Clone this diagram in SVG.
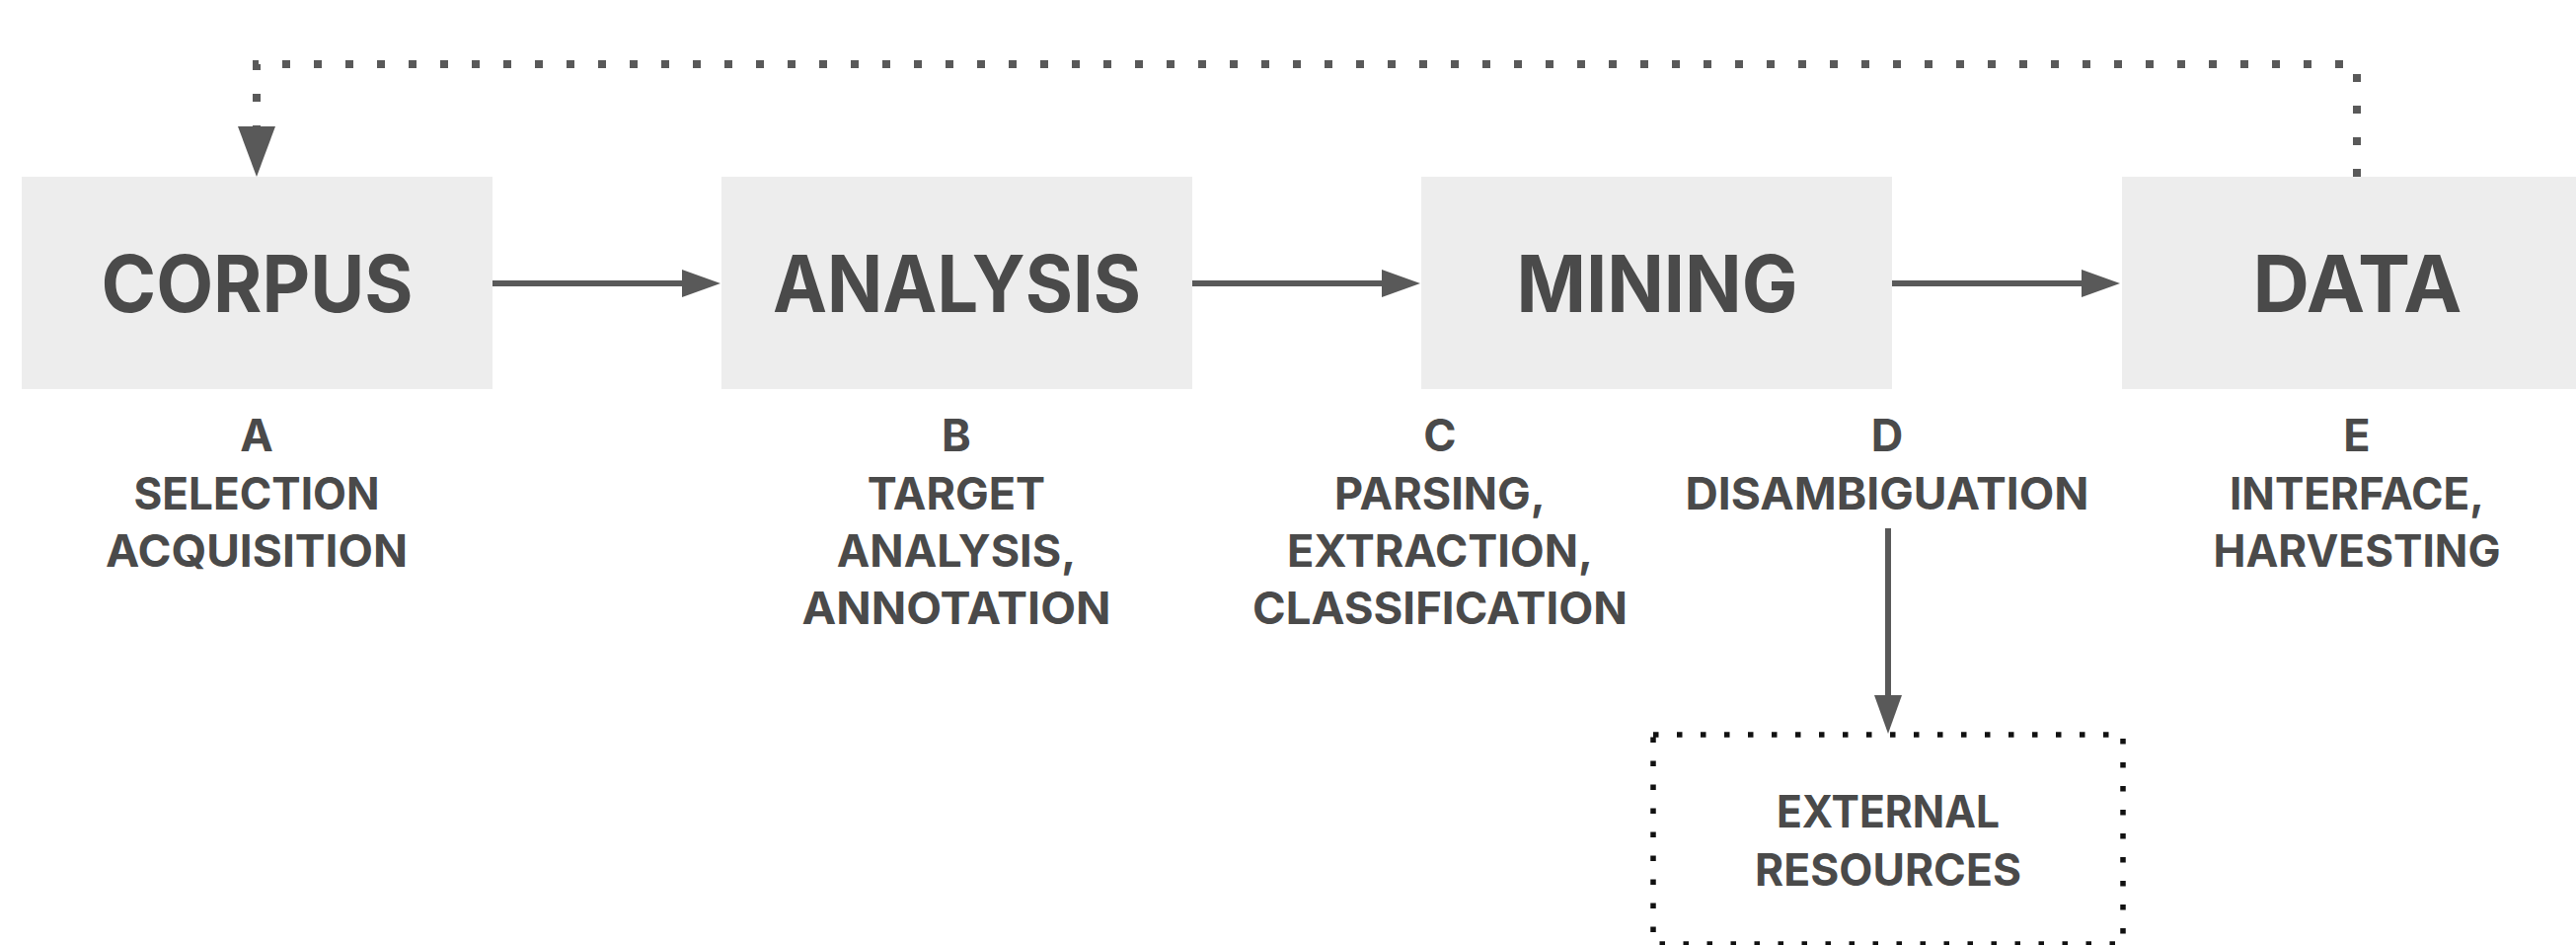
<svg xmlns="http://www.w3.org/2000/svg" width="2610" height="957" viewBox="0 0 2610 957">
<style>
.box{fill:#ededed}
.main{font-family:Inter,"Open Sans","Liberation Sans",sans-serif;font-weight:700;font-size:80px;fill:#4a4a4a;text-anchor:middle}
.sub{font-family:Inter,"Open Sans","Liberation Sans",sans-serif;font-weight:700;font-size:45px;fill:#4a4a4a;text-anchor:middle}
.conn{stroke:#595959;stroke-width:6;fill:none}
.dot{stroke:#595959;stroke-width:8;fill:none;stroke-dasharray:8 24}
.ext{stroke:#111;stroke-width:5.5;fill:none;stroke-dasharray:5.5 18.5}
</style>
<defs>
<marker id="ah" markerUnits="userSpaceOnUse" markerWidth="40" markerHeight="28" viewBox="0 0 40 28" refX="1" refY="14" orient="auto">
<path d="M0,0 L39,14 L0,28 Z" fill="#595959"/>
</marker>
</defs>
<rect width="2610" height="957" fill="#ffffff"/>
<g id="connectors">
<line class="conn" x1="499" y1="287" x2="692" y2="287" marker-end="url(#ah)"/>
<line class="conn" x1="1208" y1="287" x2="1401" y2="287" marker-end="url(#ah)"/>
<line class="conn" x1="1917" y1="287" x2="2110" y2="287" marker-end="url(#ah)"/>
<line class="conn" x1="1913" y1="535" x2="1913" y2="705" marker-end="url(#ah)"/>
<path class="dot" d="M2388,179 V65 H260 V128"/>
<polygon points="241,128 279,128 260,179" fill="#595959"/>
</g>
<g id="corpus">
<rect class="box" x="22" y="179" width="477" height="215"/>
<text class="main" x="260.5" y="316" textLength="316" lengthAdjust="spacingAndGlyphs">CORPUS</text>
</g>
<g id="analysis">
<rect class="box" x="731" y="179" width="477" height="215"/>
<text class="main" x="969.5" y="316" textLength="373" lengthAdjust="spacingAndGlyphs">ANALYSIS</text>
</g>
<g id="mining">
<rect class="box" x="1440" y="179" width="477" height="215"/>
<text class="main" x="1679" y="316" textLength="285" lengthAdjust="spacingAndGlyphs">MINING</text>
</g>
<g id="data">
<rect class="box" x="2150" y="179" width="477" height="215"/>
<text class="main" x="2388.5" y="316" textLength="212" lengthAdjust="spacingAndGlyphs">DATA</text>
</g>
<g id="label-a">
<text class="sub" x="260" y="457">A</text>
<text class="sub" x="260" y="516" textLength="249" lengthAdjust="spacingAndGlyphs">SELECTION</text>
<text class="sub" x="260" y="574" textLength="306" lengthAdjust="spacingAndGlyphs">ACQUISITION</text>
</g>
<g id="label-b">
<text class="sub" x="969" y="457">B</text>
<text class="sub" x="969" y="516">TARGET</text>
<text class="sub" x="969" y="574">ANALYSIS,</text>
<text class="sub" x="969" y="632" textLength="313" lengthAdjust="spacingAndGlyphs">ANNOTATION</text>
</g>
<g id="label-c">
<text class="sub" x="1459" y="457">C</text>
<text class="sub" x="1459" y="516">PARSING,</text>
<text class="sub" x="1459" y="574">EXTRACTION,</text>
<text class="sub" x="1459" y="632" textLength="380" lengthAdjust="spacingAndGlyphs">CLASSIFICATION</text>
</g>
<g id="label-d">
<text class="sub" x="1912" y="457">D</text>
<text class="sub" x="1912" y="516" textLength="409" lengthAdjust="spacingAndGlyphs">DISAMBIGUATION</text>
</g>
<g id="label-e">
<text class="sub" x="2388" y="457">E</text>
<text class="sub" x="2388" y="516" textLength="258" lengthAdjust="spacingAndGlyphs">INTERFACE,</text>
<text class="sub" x="2388" y="574" textLength="291" lengthAdjust="spacingAndGlyphs">HARVESTING</text>
</g>
<g id="external-resources">
<rect class="ext" x="1675" y="744" width="476" height="212"/>
<text class="sub" x="1913" y="838" textLength="226" lengthAdjust="spacingAndGlyphs">EXTERNAL</text>
<text class="sub" x="1913" y="897" textLength="270" lengthAdjust="spacingAndGlyphs">RESOURCES</text>
</g>
</svg>
